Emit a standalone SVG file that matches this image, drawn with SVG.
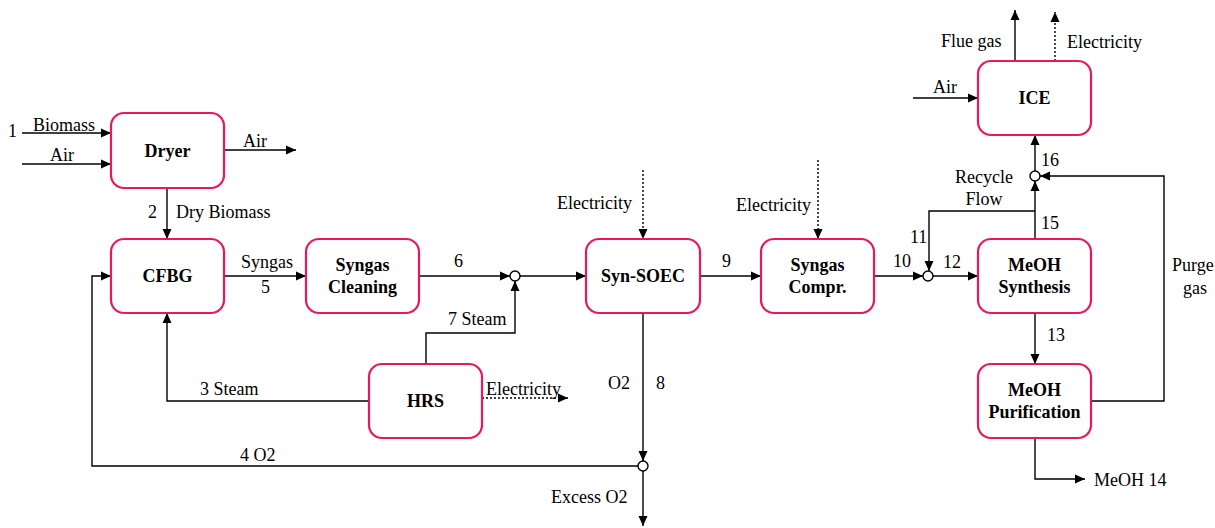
<svg xmlns="http://www.w3.org/2000/svg" width="1215" height="528" viewBox="0 0 1215 528">
<defs>
<marker id="ah" viewBox="0 0 10 10" refX="10" refY="5" markerWidth="10" markerHeight="10" markerUnits="userSpaceOnUse" orient="auto">
<path d="M0,0.5 L10,5 L0,9.5 Z" fill="#000"/>
</marker>
</defs>
<style>
.node rect{fill:#fff;stroke:#E8195A;stroke-width:2.2}
.node text{font-weight:bold;font-size:18px;text-anchor:middle;fill:#000}
.ln{fill:none;stroke:#000;stroke-width:1.4}
.arr{marker-end:url(#ah)}
.dot{stroke-dasharray:2,2}
.jn{fill:#fff;stroke:#000;stroke-width:1.4}
.lb{font-size:18px;fill:#000}
</style>
<rect width="1215" height="528" fill="#fff"/>
<g id="connectors">
<path class="ln arr" d="M22,133 H111"/>
<path class="ln arr" d="M22,164 H111"/>
<path class="ln arr" d="M224,150 H296"/>
<path class="ln arr" d="M167,188 V239"/>
<path class="ln arr" d="M224,276 H306"/>
<path class="ln arr" d="M419,276 H510"/>
<path class="ln arr" d="M520,276 H586"/>
<path class="ln arr" d="M426,364 V333 H515 V281"/>
<path class="ln arr" d="M369,401 H167 V313"/>
<path class="ln arr dot" d="M482,398 H568"/>
<path class="ln arr" d="M643,313 V461"/>
<path class="ln arr" d="M638,466 H92 V276 H111"/>
<path class="ln arr" d="M643,471 V526"/>
<path class="ln arr dot" d="M643,170 V239"/>
<path class="ln arr" d="M700,276 H761"/>
<path class="ln arr dot" d="M818,160 V239"/>
<path class="ln arr" d="M874,276 H923"/>
<path class="ln arr" d="M933,276 H978"/>
<path class="ln arr" d="M1035,239 V181"/>
<path class="ln arr" d="M1035,211 H929 V271"/>
<path class="ln arr" d="M1035,171 V135"/>
<path class="ln arr" d="M1091,401 H1164 V176 H1040"/>
<path class="ln arr" d="M1035,313 V364"/>
<path class="ln arr" d="M1035,438 V479 H1085"/>
<path class="ln arr" d="M913,98 H978"/>
<path class="ln arr" d="M1015,61 V10"/>
<path class="ln arr dot" d="M1055,61 V12"/>
<circle class="jn" cx="515" cy="276" r="5"/>
<circle class="jn" cx="928" cy="276" r="5"/>
<circle class="jn" cx="1035" cy="176" r="5"/>
<circle class="jn" cx="643" cy="466" r="5"/>
</g>
<g id="labels" font-family="Liberation Serif, serif">
<text class="lb" x="8" y="137">1</text>
<text class="lb" x="33" y="131">Biomass</text>
<text class="lb" x="50" y="161">Air</text>
<text class="lb" x="243" y="147">Air</text>
<text class="lb" x="148" y="218">2</text>
<text class="lb" x="176" y="218">Dry Biomass</text>
<text class="lb" x="241" y="268">Syngas</text>
<text class="lb" x="261" y="293">5</text>
<text class="lb" x="454" y="267">6</text>
<text class="lb" x="448" y="325">7 Steam</text>
<text class="lb" x="200" y="395">3 Steam</text>
<text class="lb" x="486" y="395">Electricity</text>
<text class="lb" x="240" y="461">4 O2</text>
<text class="lb" x="608" y="389">O2</text>
<text class="lb" x="656" y="389">8</text>
<text class="lb" x="551" y="503">Excess O2</text>
<text class="lb" x="557" y="209">Electricity</text>
<text class="lb" x="722" y="267">9</text>
<text class="lb" x="736" y="211">Electricity</text>
<text class="lb" x="893" y="267">10</text>
<text class="lb" x="943" y="268">12</text>
<text class="lb" x="910" y="243">11</text>
<text class="lb" x="1041" y="229">15</text>
<text class="lb" x="1041" y="166">16</text>
<text class="lb" x="984" y="183" text-anchor="middle">Recycle</text>
<text class="lb" x="984" y="205" text-anchor="middle">Flow</text>
<text class="lb" x="1172" y="271">Purge</text>
<text class="lb" x="1183" y="294">gas</text>
<text class="lb" x="1047" y="341">13</text>
<text class="lb" x="1094" y="486">MeOH 14</text>
<text class="lb" x="933" y="93">Air</text>
<text class="lb" x="941" y="47">Flue gas</text>
<text class="lb" x="1067" y="48">Electricity</text>
</g>
<g id="nodes" font-family="Liberation Serif, serif">
<g id="dryer" class="node"><rect x="111" y="113" width="113" height="75" rx="13"/><text x="167.5" y="157">Dryer</text></g>
<g id="cfbg" class="node"><rect x="111" y="239" width="113" height="74" rx="13"/><text x="167.5" y="282">CFBG</text></g>
<g id="syngas-cleaning" class="node"><rect x="306" y="239" width="113" height="74" rx="13"/><text x="362.5" y="271">Syngas</text><text x="362.5" y="293">Cleaning</text></g>
<g id="syn-soec" class="node"><rect x="586" y="239" width="114" height="74" rx="13"/><text x="643" y="282">Syn-SOEC</text></g>
<g id="syngas-compr" class="node"><rect x="761" y="239" width="113" height="74" rx="13"/><text x="817.5" y="271">Syngas</text><text x="817.5" y="293">Compr.</text></g>
<g id="meoh-synthesis" class="node"><rect x="978" y="239" width="113" height="74" rx="13"/><text x="1034.5" y="271">MeOH</text><text x="1034.5" y="293">Synthesis</text></g>
<g id="meoh-purification" class="node"><rect x="978" y="364" width="113" height="74" rx="13"/><text x="1034.5" y="396">MeOH</text><text x="1034.5" y="418">Purification</text></g>
<g id="ice" class="node"><rect x="978" y="61" width="113" height="74" rx="13"/><text x="1034.5" y="104">ICE</text></g>
<g id="hrs" class="node"><rect x="369" y="364" width="113" height="74" rx="13"/><text x="425.5" y="407">HRS</text></g>
</g>
</svg>
